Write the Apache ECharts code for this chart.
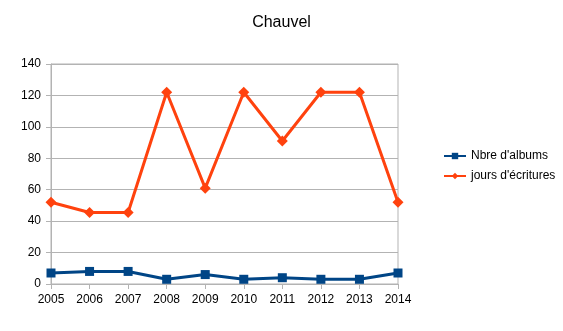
<!DOCTYPE html>
<html>
<head>
<meta charset="utf-8">
<script src="https://cdn.jsdelivr.net/npm/echarts@6/dist/echarts.min.js"></script>
<style>
html, body { margin: 0; padding: 0; background: #fff; }
#chart { width: 563px; height: 331px; }
</style>
</head>
<body>
<div id="chart"></div>
<script>
const years = ['2005', '2006', '2007', '2008', '2009', '2010', '2011', '2012', '2013', '2014'];
const albums = [7, 8, 8, 3, 6, 3, 4, 3, 3, 7];
const joursEcriture = [52, 45.5, 45.5, 122, 61, 122, 91, 122, 122, 52];

const chart = echarts.init(document.getElementById('chart'));
const font = 'Liberation Sans, Arial, sans-serif';

chart.setOption({
  animation: false,
  backgroundColor: '#ffffff',
  title: {
    text: 'Chauvel',
    left: 'center',
    top: 10,
    textStyle: { fontFamily: font, fontSize: 16, fontWeight: 'normal', color: '#000' }
  },
  legend: {
    orient: 'vertical',
    left: 438,
    top: 145,
    itemGap: 8,
    itemWidth: 22,
    itemHeight: 8,
    textStyle: { fontFamily: font, fontSize: 12, color: '#000' },
    data: ["Nbre d'albums", "jours d'écritures"]
  },
  grid: {
    left: 51, right: 165, top: 64, bottom: 47,
    show: true, borderColor: '#b3b3b3', borderWidth: 1
  },
  xAxis: {
    type: 'category',
    data: years,
    boundaryGap: false,
    axisLine: { lineStyle: { color: '#b3b3b3' } },
    axisTick: { show: true, length: 5, lineStyle: { color: '#b3b3b3' } },
    axisLabel: { fontFamily: font, fontSize: 12, color: '#000', margin: 10 },
    splitLine: { show: false }
  },
  yAxis: {
    type: 'value',
    min: 0, max: 140, interval: 20,
    axisLine: { show: true, lineStyle: { color: '#b3b3b3' } },
    axisTick: { show: true, length: 5, lineStyle: { color: '#b3b3b3' } },
    axisLabel: { fontFamily: font, fontSize: 12, color: '#000', margin: 10 },
    splitLine: { lineStyle: { color: '#b3b3b3' } }
  },
  series: [
    {
      name: "Nbre d'albums",
      type: 'line',
      data: albums,
      color: '#004586',
      symbol: 'rect',
      symbolSize: 9,
      lineStyle: { width: 3, color: '#004586' },
      itemStyle: { color: '#004586' }
    },
    {
      name: "jours d'écritures",
      type: 'line',
      data: joursEcriture,
      color: '#ff420e',
      symbol: 'diamond',
      symbolSize: 11,
      lineStyle: { width: 3, color: '#ff420e' },
      itemStyle: { color: '#ff420e' }
    }
  ]
});
</script>
</body>
</html>
